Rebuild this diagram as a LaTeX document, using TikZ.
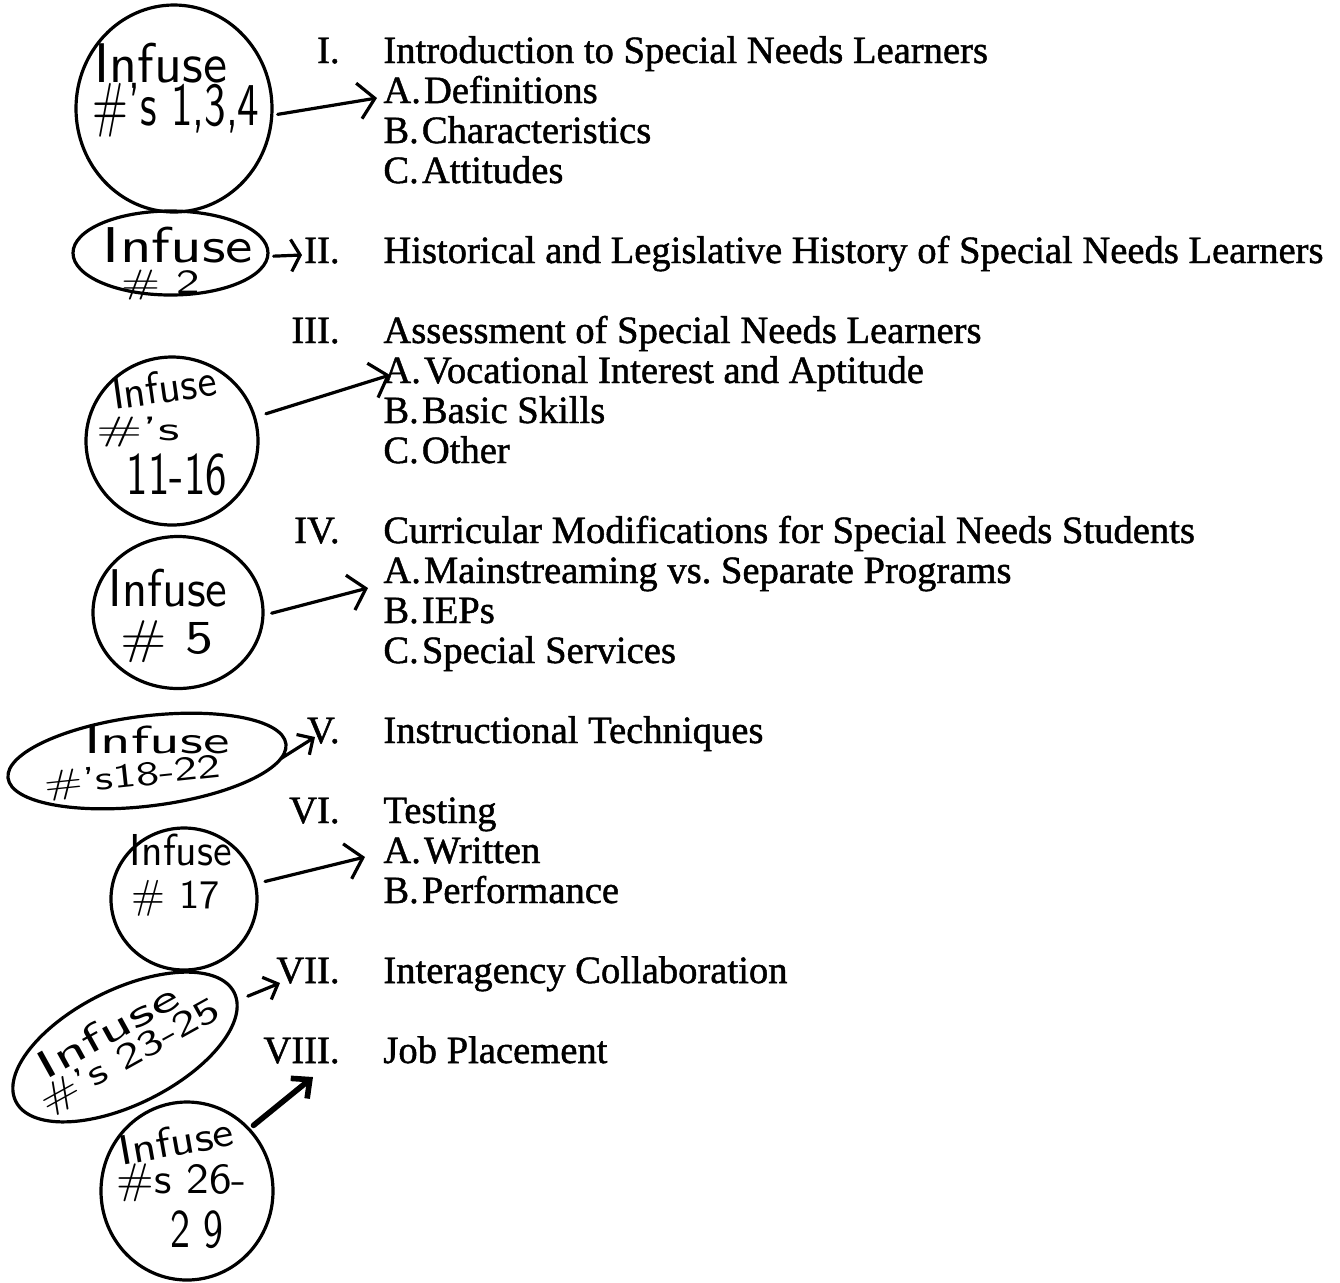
\documentclass[tikz,border=0pt]{standalone}
\usepackage{fontspec}
\usepackage{graphicx}
\setmainfont{Liberation Serif}[FakeBold=1.2]
\usetikzlibrary{shapes.geometric,arrows.meta}
\newcommand\hwbox[3]{\resizebox*{#1pt}{#2pt}{\sffamily #3}}
\frenchspacing
\begin{document}
\begin{tikzpicture}[x=0.5pt,y=-0.5pt,
  hring/.style={draw, ellipse, line width=1.6pt, inner sep=0pt, outer sep=0pt},
  hw/.style={inner sep=0pt, outer sep=0pt},
  item/.style={anchor=base west, inner sep=0pt, font=\fontsize{19.3}{20}\selectfont},
  num/.style={anchor=base east, inner sep=0pt, font=\fontsize{19.3}{20}\selectfont},
  arr/.style={line width=1.6pt, line cap=round, -{Straight Barb[length=8pt,width=18pt]}},
  bigarr/.style={line width=2.8pt, line cap=round, -{Straight Barb[length=7pt,width=13pt]}}]
\useasboundingbox (0,0) rectangle (1340,1282);

% ---------- outline text ----------
\node[num]  (n1)  at (340,63) {I.};
\node[item] (i1)  at (383,63) {Introduction to Special Needs Learners};
\node[item] (i1a) at (383,103) {A.\hspace{-0.17em} Definitions};
\node[item] (i1b) at (383,143) {B.\hspace{-0.17em} Characteristics};
\node[item] (i1c) at (383,183) {C.\hspace{-0.17em} Attitudes};
\node[num]  (n2)  at (340,263) {II.};
\node[item] (i2)  at (383,263) {Historical and Legislative History of Special Needs Learners};
\node[num]  (n3)  at (340,343) {III.};
\node[item] (i3)  at (383,343) {Assessment of Special Needs Learners};
\node[item] (i3a) at (383,383) {A.\hspace{-0.17em} Vocational Interest and Aptitude};
\node[item] (i3b) at (383,423) {B.\hspace{-0.17em} Basic Skills};
\node[item] (i3c) at (383,463) {C.\hspace{-0.17em} Other};
\node[num]  (n4)  at (340,543) {IV.};
\node[item] (i4)  at (383,543) {Curricular Modifications for Special Needs Students};
\node[item] (i4a) at (383,583) {A.\hspace{-0.17em} Mainstreaming vs. Separate Programs};
\node[item] (i4b) at (383,623) {B.\hspace{-0.17em} IEPs};
\node[item] (i4c) at (383,663) {C.\hspace{-0.17em} Special Services};
\node[num]  (n5)  at (340,743) {V.};
\node[item] (i5)  at (383,743) {Instructional Techniques};
\node[num]  (n6)  at (340,823) {VI.};
\node[item] (i6)  at (383,823) {Testing};
\node[item] (i6a) at (383,863) {A.\hspace{-0.17em} Written};
\node[item] (i6b) at (383,903) {B.\hspace{-0.17em} Performance};
\node[num]  (n7)  at (340,983) {VII.};
\node[item] (i7)  at (383,983) {Interagency Collaboration};
\node[num]  (n8)  at (340,1063) {VIII.};
\node[item] (i8)  at (383,1063) {Job Placement};

% ---------- hand-drawn rings ----------
\node[hring, minimum width=98pt, minimum height=103.5pt] (c1) at (174,108.5) {};
\node[hring, minimum width=97.5pt, minimum height=42pt] (c2) at (170.5,253) {};
\node[hring, minimum width=86pt, minimum height=84pt] (c3) at (172,441) {};
\node[hring, minimum width=85pt, minimum height=76pt] (c4) at (178,612.5) {};
\node[hring, minimum width=140pt, minimum height=45pt, rotate=7] (c5) at (147,761) {};
\node[hring, minimum width=73pt, minimum height=71pt] (c6) at (184,899) {};
\node[hring, minimum width=122pt, minimum height=57.5pt, rotate=26.5] (c7) at (125,1047) {};
\node[hring, minimum width=86pt, minimum height=89pt] (c8) at (187,1191) {};

% ---------- handwriting ----------
\node[hw] (t1a) at (161,63)  {\hwbox{66}{20}{Infuse}};
\node[hw] (t1b) at (176,110) {\hwbox{83.5}{27}{\#'s 1,3,4}};
\node[hw] (t2a) at (178,245) {\hwbox{75}{18}{Infuse}};
\node[hw] (t2b) at (161,285) {\hwbox{39}{15}{\# 2}};
\node[hw, rotate=8] (t3a) at (164,387) {\hwbox{52.5}{16}{Infuse}};
\node[hw] (t3b) at (138,432) {\hwbox{41.5}{15}{\#'s}};
\node[hw] (t3c) at (177,475) {\hwbox{50}{21}{11-16}};
\node[hw] (t4a) at (168,588) {\hwbox{59.5}{19}{Infuse}};
\node[hw] (t4b) at (167,642) {\hwbox{46.5}{21}{\# 5}};
\node[hw] (t5a) at (157,740) {\hwbox{72.5}{14}{Infuse}};
\node[hw, rotate=6] (t5b) at (133,778) {\hwbox{88.5}{15}{\#'s18-22}};
\node[hw] (t6a) at (181,850) {\hwbox{51}{16}{Infuse}};
\node[hw] (t6b) at (176,898) {\hwbox{44}{18}{\# 17}};
\node[hw, rotate=29] (t7) at (123,1043) {\renewcommand\arraystretch{0}\begin{tabular}{@{}l@{}}\hspace*{7pt}\hwbox{78}{14}{Infuse}\\[2.5pt]\hwbox{100}{16}{\#'s 23-25}\end{tabular}};
\node[hw, rotate=10] (t8a) at (176,1141) {\hwbox{58}{15}{Infuse}};
\node[hw] (t8b) at (182,1183) {\hwbox{65}{19}{\#s 26-}};
\node[hw] (t8c) at (197,1230) {\hwbox{26.5}{19}{2 9}};

% ---------- arrow tips ----------
\coordinate (e1) at (377,98);
\coordinate (e2) at (302,255);
\coordinate (e3) at (390,375);
\coordinate (e4) at (368,588);
\coordinate (e5) at (315,737);
\coordinate (e6) at (365,857);
\coordinate (e7) at (280,983);
\coordinate (e8) at (313,1077);

\draw[arr, shorten <=3pt] (c1.-4) -- (e1);
\draw[arr, shorten <=3pt, -{Straight Barb[length=4.5pt,width=16pt]}] (c2.-2) -- (e2);
\draw[arr, shorten <=6pt] (c3.16) -- (e3);
\draw[arr, shorten <=4.5pt] (c4.-2) -- (e4);
\draw[arr, -{Straight Barb[length=6pt,width=12pt]}] (c5.-6) -- (e5);
\draw[arr, shorten <=5pt] (c6.12) -- (e6);
\draw[arr, shorten <=6pt, -{Straight Barb[length=6pt,width=12pt]}] (c7.-4) -- (e7);
\draw[bigarr, shorten <=3pt] (c8.45) -- (e8);
\end{tikzpicture}
\end{document}
